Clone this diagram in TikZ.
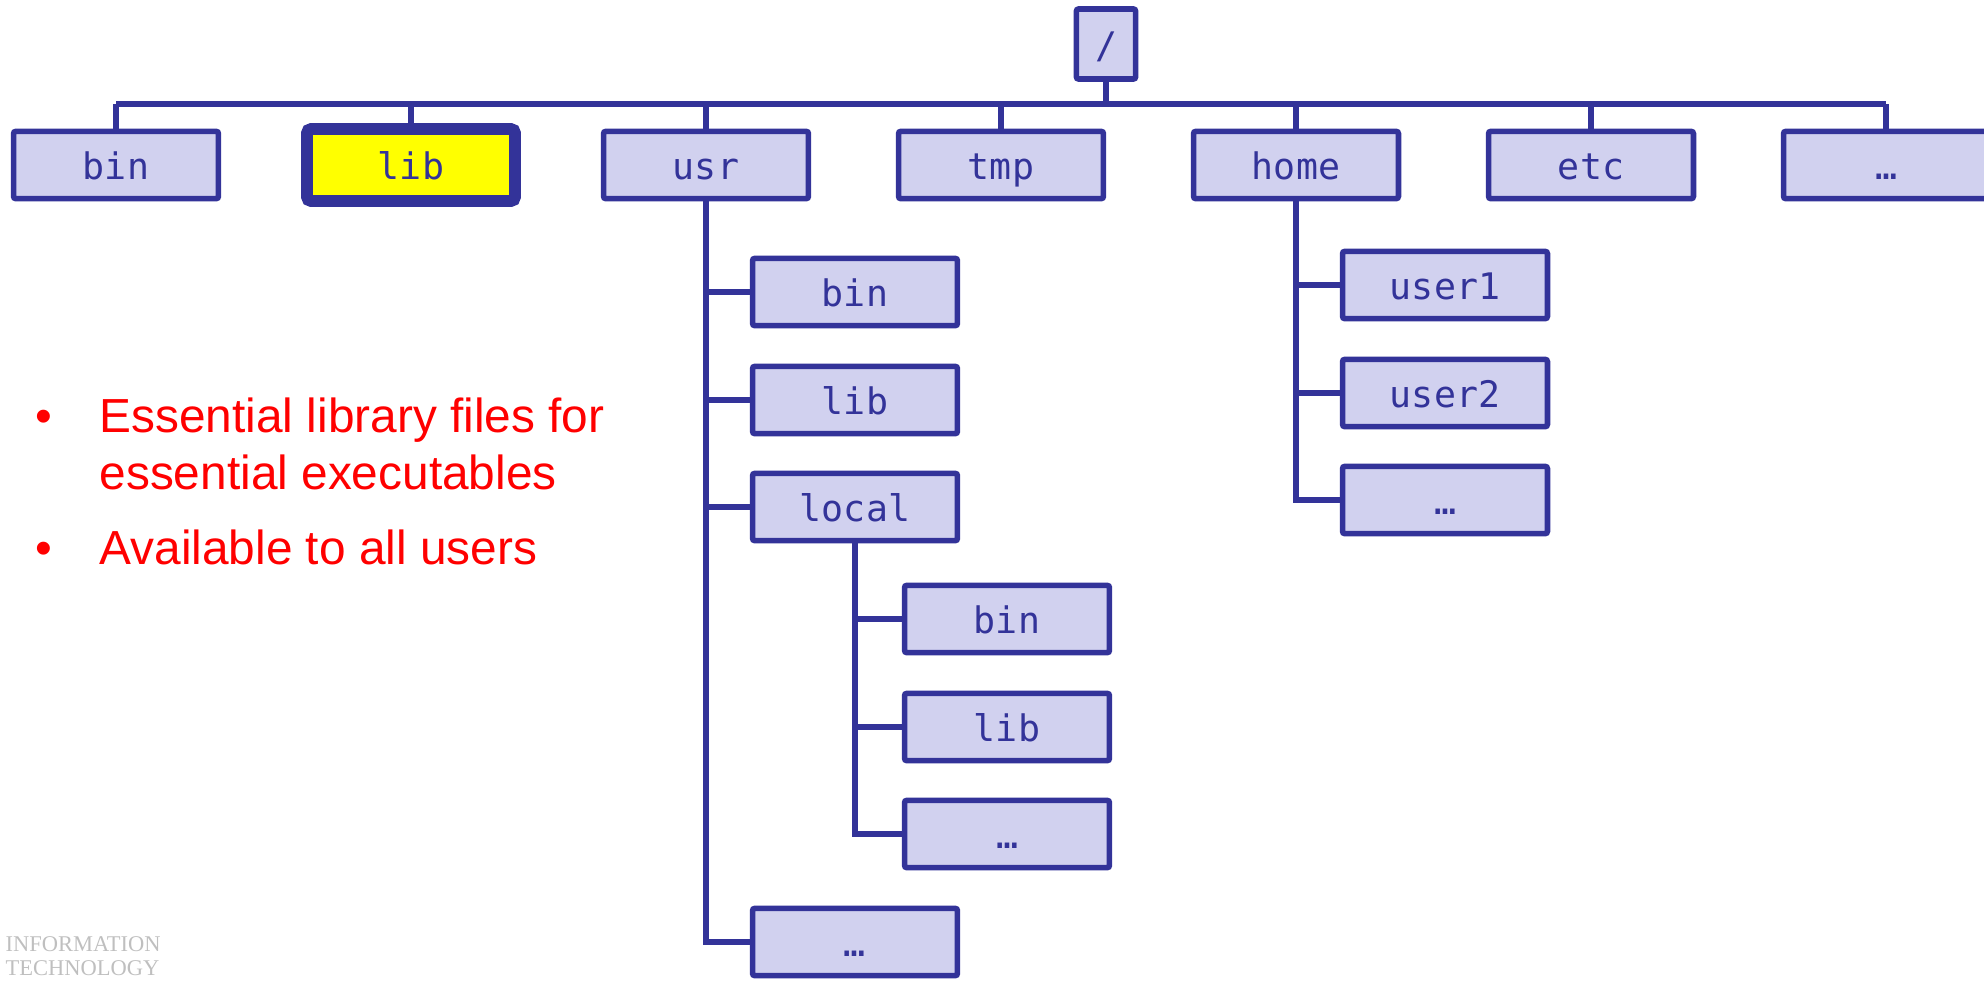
\documentclass[tikz,border=0pt]{standalone}
\usepackage{fontspec}
\usepackage{xcolor}
\usepackage{tikz}
\usetikzlibrary{positioning}
\setmainfont{Liberation Sans}
\newfontfamily\dirfont{DejaVu Sans Mono}
\newfontfamily\logofont{Liberation Serif}
\definecolor{edge}{HTML}{333399}
\definecolor{dirbg}{HTML}{D1D1EF}
\definecolor{hilite}{HTML}{FFFF00}
\definecolor{note}{HTML}{FF0000}
\definecolor{logo}{HTML}{BFBFBF}
\tikzset{
  dir/.style={draw=edge, fill=dirbg, line width=2pt, rounded corners=0.8pt,
    minimum width=2.56cm, minimum height=0.84cm, inner sep=0pt,
    text height=12pt, text depth=1.4pt, text=edge,
    font=\dirfont\fontsize{13}{15}\selectfont},
  sel/.style={dir, fill=hilite, line width=4.2pt, rounded corners=1.5pt,
    minimum width=2.6cm, minimum height=0.9cm},
  link/.style={draw=edge, line width=2pt},
  notetext/.style={text=note, inner sep=0pt, font=\fontsize{17}{20}\selectfont},
}

\begin{document}
\begin{tikzpicture}[x=0.0125cm, y=-0.0125cm]
\useasboundingbox (0,0) rectangle (1984,980);

% the root and the first level
\node[dir, minimum width=0.74cm, minimum height=0.875cm] (root) at (1106,44) {/};
\node[dir] (bin) at (116,165) {bin};
\node[sel] (lib) at (411,165) {lib};
\node[dir] (usr) at (706,165) {usr};
\node[dir] (tmp) at (1001,165) {tmp};
\node[dir] (home) at (1296,165) {home};
\node[dir] (etc) at (1591,165) {etc};
\node[dir] (more) at (1886,165) {…};

% below usr
\node[dir] (ubin) at (855,292) {bin};
\node[dir] (ulib) at (855,400) {lib};
\node[dir] (ulocal) at (855,507) {local};
\node[dir] (umore) at (855,942) {…};

% below usr/local
\node[dir] (lbin) at (1007,619) {bin};
\node[dir] (llib) at (1007,727) {lib};
\node[dir] (lmore) at (1007,834) {…};

% below home
\node[dir] (user1) at (1445,285) {user1};
\node[dir] (user2) at (1445,393) {user2};
\node[dir] (hmore) at (1445,500) {…};

% connectors
\coordinate (bar) at (1106,104);
\draw[link] (root.south) -- (root.south |- bar);
\draw[link] (bin.north |- bar) -- (more.north |- bar);
\foreach \d in {bin,lib,usr,tmp,home,etc,more}
  \draw[link] (\d.north) -- (\d.north |- bar);
\foreach \d in {ubin,ulib,ulocal,umore}
  \draw[link] (usr.south) |- (\d.west);
\foreach \d in {lbin,llib,lmore}
  \draw[link] (ulocal.south) |- (\d.west);
\foreach \d in {user1,user2,hmore}
  \draw[link] (home.south) |- (\d.west);

% the note on lib
\node[notetext, anchor=base] (dot1) at (44,432) {•};
\node[notetext, anchor=base west] (line1) at (99,432) {Essential library files for};
\node[notetext, anchor=base west] (line2) at (99,489) {essential executables};
\node[notetext, anchor=base] (dot2) at (44,564) {•};
\node[notetext, anchor=base west] (line3) at (99,564) {Available to all users};

% logo
\node[anchor=base west, inner sep=0pt, align=left, text=logo,
  font=\logofont\fontsize{8}{8.5}\selectfont] (logo) at (5,975) {INFORMATION\\TECHNOLOGY};

\end{tikzpicture}
\end{document}
